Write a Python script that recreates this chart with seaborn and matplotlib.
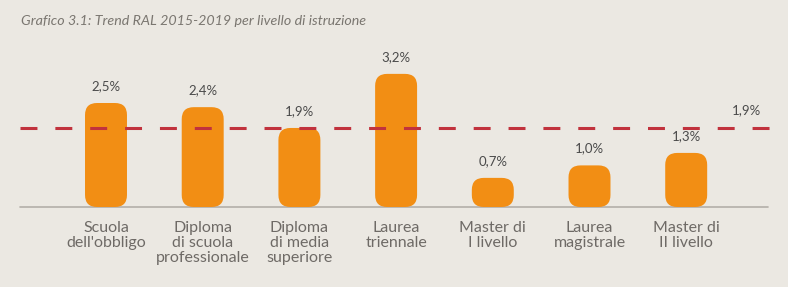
import matplotlib
matplotlib.use("Agg")
import matplotlib.pyplot as plt
from matplotlib.patches import FancyBboxPatch
import seaborn as sns
import pandas as pd

categories = ["Scuola\ndell'obbligo", "Diploma\ndi scuola\nprofessionale", "Diploma\ndi media\nsuperiore",
              "Laurea\ntriennale", "Master di\nI livello", "Laurea\nmagistrale", "Master di\nII livello"]
values = [2.5, 2.4, 1.9, 3.2, 0.7, 1.0, 1.3]
value_labels = ["2,5%", "2,4%", "1,9%", "3,2%", "0,7%", "1,0%", "1,3%"]
average = 1.9
average_label = "1,9%"
title = "Grafico 3.1: Trend RAL 2015-2019 per livello di istruzione"

sns.set_style("white")
plt.rcParams['font.family'] = ['Lato', 'DejaVu Sans']

BG = "#ebe8e2"
ORANGE = "#f28e14"
W, H = 788, 287
fig = plt.figure(figsize=(W / 100, H / 100), dpi=100, facecolor=BG)
ax = fig.add_axes([0, 0, 1, 1])
ax.set_facecolor(BG)

df = pd.DataFrame({"cat": categories, "val": values})
sns.barplot(data=df, x="cat", y="val", color=ORANGE, width=0.434, ax=ax, saturation=1)

# pixel mapping
x0px, dxpx = 106.0, 96.7
base_px, ypx = 207.0, 41.6
ax.set_xlim(-x0px / dxpx, (W - x0px) / dxpx)
ax.set_ylim(-(H - base_px) / ypx, base_px / ypx)

# rounded bars
r_px = 12
rx = r_px / dxpx
ry = r_px / ypx
patches = list(ax.patches)
for p in patches:
    x, y = p.get_x(), p.get_y()
    w, h = p.get_width(), p.get_height()
    p.remove()
    fb = FancyBboxPatch((x, y), w, h,
                        boxstyle=f"round,pad=0,rounding_size={rx}",
                        mutation_aspect=ry / rx,
                        facecolor=ORANGE, edgecolor="none", zorder=2)
    ax.add_patch(fb)

def px2x(px):
    return (px - x0px) / dxpx

# baseline
ax.plot([px2x(20), px2x(768)], [0, 0], color="#b3afa9", lw=1.2, zorder=1)

# average dashed line
lw = 2.2
ax.plot([px2x(20), px2x(770)], [average, average], color="#c1323d", lw=lw,
        linestyle=(0, (12.2 / lw, 12.9 / lw)), zorder=3,
        dash_capstyle="butt")
ax.text(px2x(746), average + 18 / ypx, average_label, ha="center", va="center",
        fontsize=9.5, color="#4a4a4a")

# value labels
for i, (v, lab) in enumerate(zip(values, value_labels)):
    ax.text(i, v + 17 / ypx, lab, ha="center", va="center", fontsize=9.5,
            color="#4a4a4a")

# category labels
for i, c in enumerate(categories):
    ax.text(i, -14 / ypx, c, ha="center", va="top", fontsize=11.5, color="#6e6a66",
            linespacing=1.08)

ax.set_axis_off()

fig.text(21 / W, 1 - 21 / H, title, ha="left", va="center", fontsize=10.3,
         style="italic", color="#7a7670")

fig.savefig("out.png", dpi=100, facecolor=BG)
